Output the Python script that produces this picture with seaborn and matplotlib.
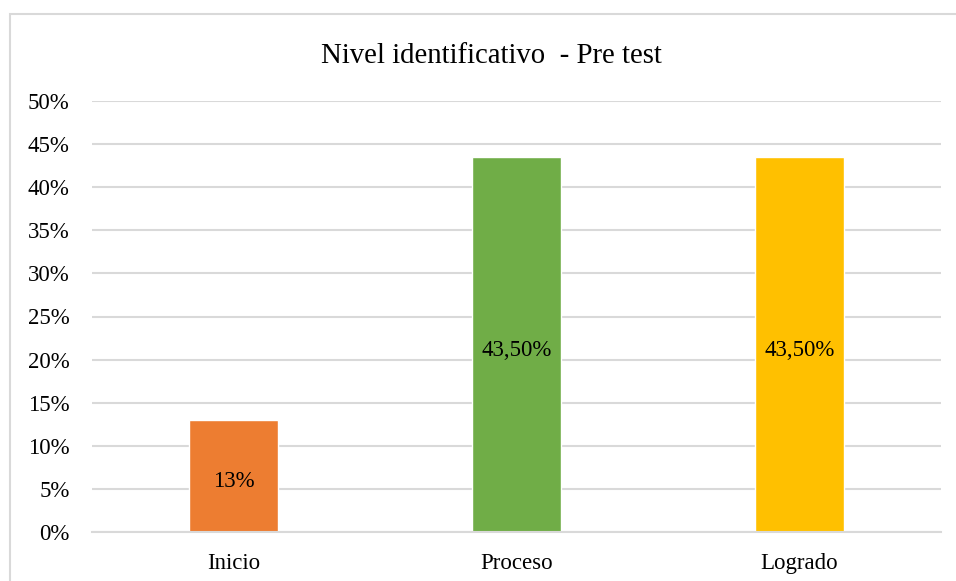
import matplotlib
matplotlib.use("Agg")
import matplotlib.pyplot as plt
import seaborn as sns
import pandas as pd
from matplotlib.patches import Rectangle
from matplotlib.ticker import PercentFormatter

categories = ["Inicio", "Proceso", "Logrado"]
values = [0.13, 0.435, 0.435]
bar_labels = ["13%", "43,50%", "43,50%"]
colors = ["#ED7D31", "#70AD47", "#FFC000"]
title = "Nivel identificativo  - Pre test"

sns.set_theme(style="white")
plt.rcParams["font.family"] = ["Liberation Serif", "DejaVu Serif"]

df = pd.DataFrame({"cat": categories, "val": values})

fig = plt.figure(figsize=(9.56, 5.81), dpi=100)
ax = fig.add_axes([92 / 956, 1 - 532 / 581, (941 - 92) / 956, (532 - 101) / 581])

sns.barplot(data=df, x="cat", y="val", hue="cat", palette=colors,
            width=0.315, legend=False, ax=ax, saturation=1)

ax.set_ylim(0, 0.5)
ax.set_yticks([i / 100 for i in range(0, 51, 5)])
ax.yaxis.set_major_formatter(PercentFormatter(1.0, decimals=0))
ax.grid(axis="y", color="#d9d9d9", linewidth=1.5)
ax.set_axisbelow(True)
for side in ["top", "right", "left"]:
    ax.spines[side].set_visible(False)
ax.spines["bottom"].set_color("#d9d9d9")
ax.spines["bottom"].set_linewidth(1.5)
ax.tick_params(axis="both", length=0, labelsize=16.5, colors="black")
ax.tick_params(axis="y", pad=16)
ax.tick_params(axis="x", pad=15)
ax.set_xlabel("")
ax.set_ylabel("")

labels_iter = iter(bar_labels)
for cont in ax.containers:
    anns = ax.bar_label(cont, labels=[next(labels_iter) for _ in cont],
                        label_type="center", fontsize=16.5, color="black")
    for ann in anns:
        ann.xyann = (0, -4)

fig.text(491 / 956, 1 - 56 / 581, title, ha="center", va="center",
         fontsize=20.7, color="black")

# light grey chart-area frame (right/bottom edges fall outside the image)
fig.patches.append(Rectangle((10 / 956, -0.2), 1.2, 1.2 - 14 / 581,
                             transform=fig.transFigure, fill=False,
                             edgecolor="#d9d9d9", linewidth=1.5))

fig.savefig("out.png", dpi=100)
